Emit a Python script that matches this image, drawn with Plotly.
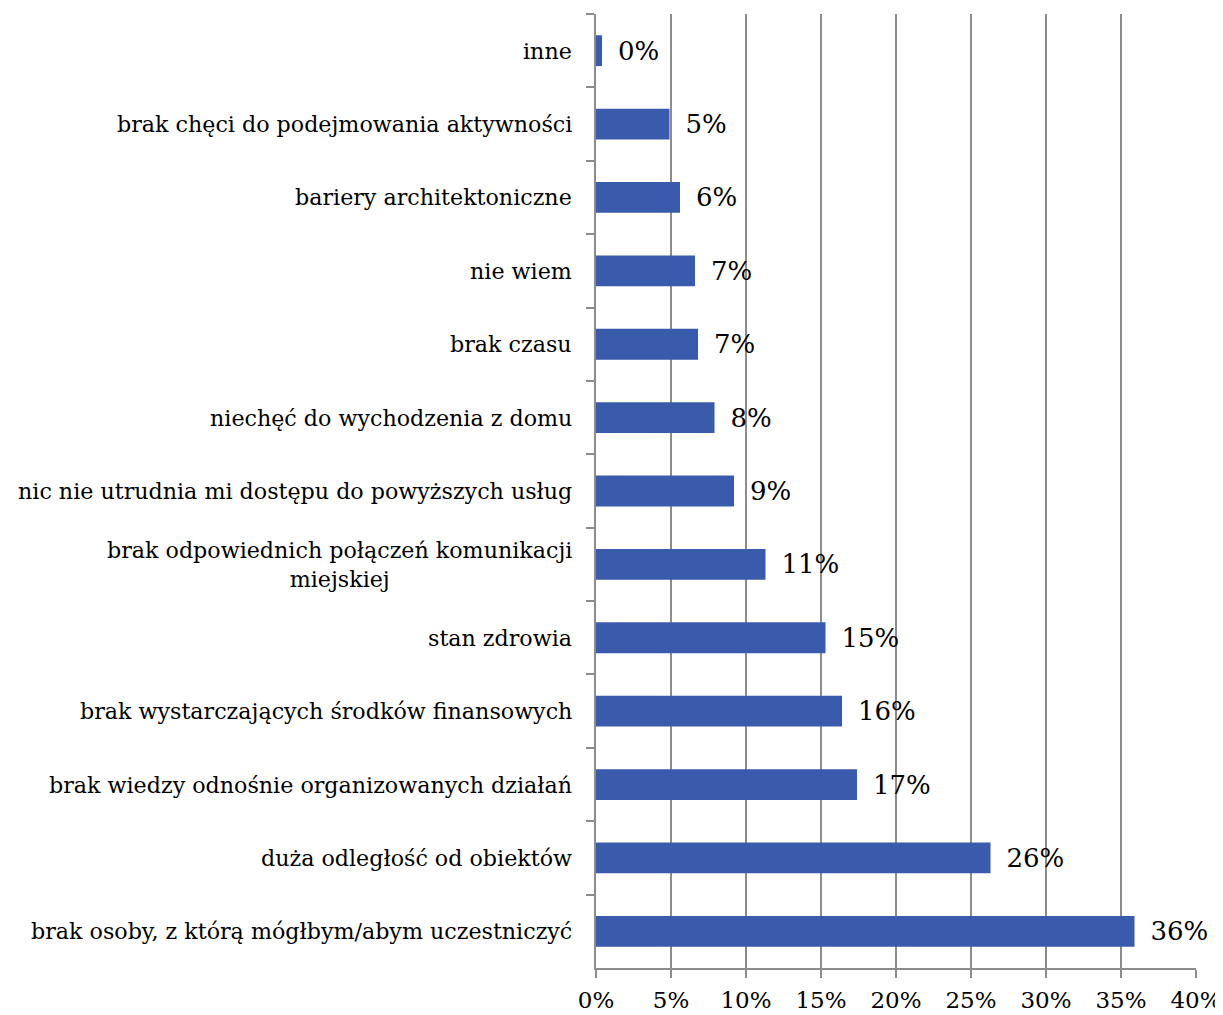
import plotly.graph_objects as go

kategorie = [
    "inne",
    "brak chęci do podejmowania aktywności",
    "bariery architektoniczne",
    "nie wiem",
    "brak czasu",
    "niechęć do wychodzenia z domu",
    "nic nie utrudnia mi dostępu do powyższych usług",
    "brak odpowiednich połączeń komunikacji<br>miejskiej",
    "stan zdrowia",
    "brak wystarczających środków finansowych",
    "brak wiedzy odnośnie organizowanych działań",
    "duża odległość od obiektów",
    "brak osoby, z którą mógłbym/abym uczestniczyć",
]
udzial = [0.004, 0.049, 0.056, 0.066, 0.068, 0.079, 0.092, 0.113, 0.153, 0.164, 0.174, 0.263, 0.359]
x_ticks = [0, 0.05, 0.10, 0.15, 0.20, 0.25, 0.30, 0.35, 0.40]

FONT = "DejaVu Serif"
GRID = "#8c8c8c"

fig = go.Figure(go.Bar(
    x=udzial, y=kategorie, orientation="h",
    marker=dict(color="#3a5aab", line=dict(width=0)),
    texttemplate="\u2002%{x:.0%}", textposition="outside",
    textfont=dict(family=FONT, size=26, color="black"),
    cliponaxis=False, width=0.42,
))

# etykiety kategorii jako adnotacje (wyśrodkowane wiersze)
for k in kategorie:
    fig.add_annotation(
        x=0, xref="paper", y=k, yref="y", text=k, showarrow=False,
        xanchor="right", align="center", xshift=-22,
        font=dict(family=FONT, size=22.2, color="black"),
    )

# strona ma 8px marginesu body, więc figura jest o tyle mniejsza
fig.update_layout(
    width=1215, height=1007, plot_bgcolor="white", paper_bgcolor="white",
    margin=dict(l=588, r=27, t=6, b=47), showlegend=False,
    font=dict(family=FONT, color="black"),
)
fig.update_xaxes(
    range=[0, 0.40], tickvals=x_ticks, tickformat=".0%", automargin=False,
    showgrid=True, gridcolor=GRID, gridwidth=1.5, zeroline=False,
    showline=True, linecolor=GRID, linewidth=1.5,
    ticks="outside", ticklen=8, tickcolor=GRID, tickwidth=1.5,
    tickfont=dict(family=FONT, size=23), ticklabelstandoff=3,
)
fig.update_yaxes(
    categoryorder="array", categoryarray=kategorie, autorange="reversed",
    automargin=False, showticklabels=False,
    showline=True, linecolor=GRID, linewidth=1.5,
    ticks="outside", tickson="boundaries", ticklen=8, tickcolor=GRID, tickwidth=1.5,
    showgrid=False,
)

fig.write_html("out.html")
